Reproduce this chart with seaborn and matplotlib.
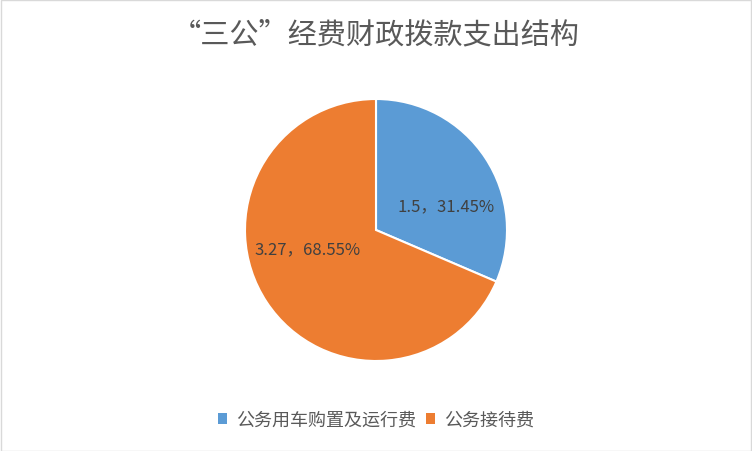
import matplotlib
matplotlib.use("Agg")
import matplotlib.pyplot as plt
from matplotlib.patches import Rectangle, Patch
import seaborn as sns

# data
categories = ["公务用车购置及运行费", "公务接待费"]
values = [1.5, 3.27]
percents = ["31.45%", "68.55%"]
colors = ["#5B9BD5", "#ED7D31"]
title = "“三公”经费财政拨款支出结构"

sns.set_theme(style="white")
plt.rcParams['font.family'] = ['Noto Sans CJK SC', 'DejaVu Sans']

fig = plt.figure(figsize=(7.52, 4.52), dpi=100)
fig.patches.append(Rectangle((0.001, 0.001), 0.998, 0.997, transform=fig.transFigure,
                             fill=False, edgecolor="#D9D9D9", linewidth=1))

# square axes for the pie, centre ~ (376, 231) px, radius ~131 px
r = 131
ax = fig.add_axes([(376 - r) / 752, (452 - 231 - r) / 452, 2 * r / 752, 2 * r / 452])
wedges, _ = ax.pie(values, colors=colors, startangle=90, counterclock=False,
                   wedgeprops=dict(edgecolor="white", linewidth=1.5))
ax.set_xlim(-1, 1)
ax.set_ylim(-1, 1)
ax.set_aspect("equal")
ax.axis("off")

# data labels (Excel style placement)
label_pos = [(0.534, 0.183), (-0.52, -0.145)]
for v, p, (lx, ly) in zip(values, percents, label_pos):
    ax.text(lx, ly, f"{v}，{p}", ha="center", va="center", fontsize=12, color="#404040")

fig.text(0.5, 1 - 35 / 452, title, ha="center", va="center", fontsize=21,
         color="#595959", fontweight="light")

handles = [Patch(facecolor=c, edgecolor="none") for c in colors]
fig.legend(handles, categories, loc="center", bbox_to_anchor=(0.5, 1 - 421 / 452), ncol=2,
           frameon=False, fontsize=13, labelcolor="#595959", handlelength=0.55,
           handleheight=0.55, handletextpad=0.5, columnspacing=0.5)

fig.savefig("out.png", dpi=100)
